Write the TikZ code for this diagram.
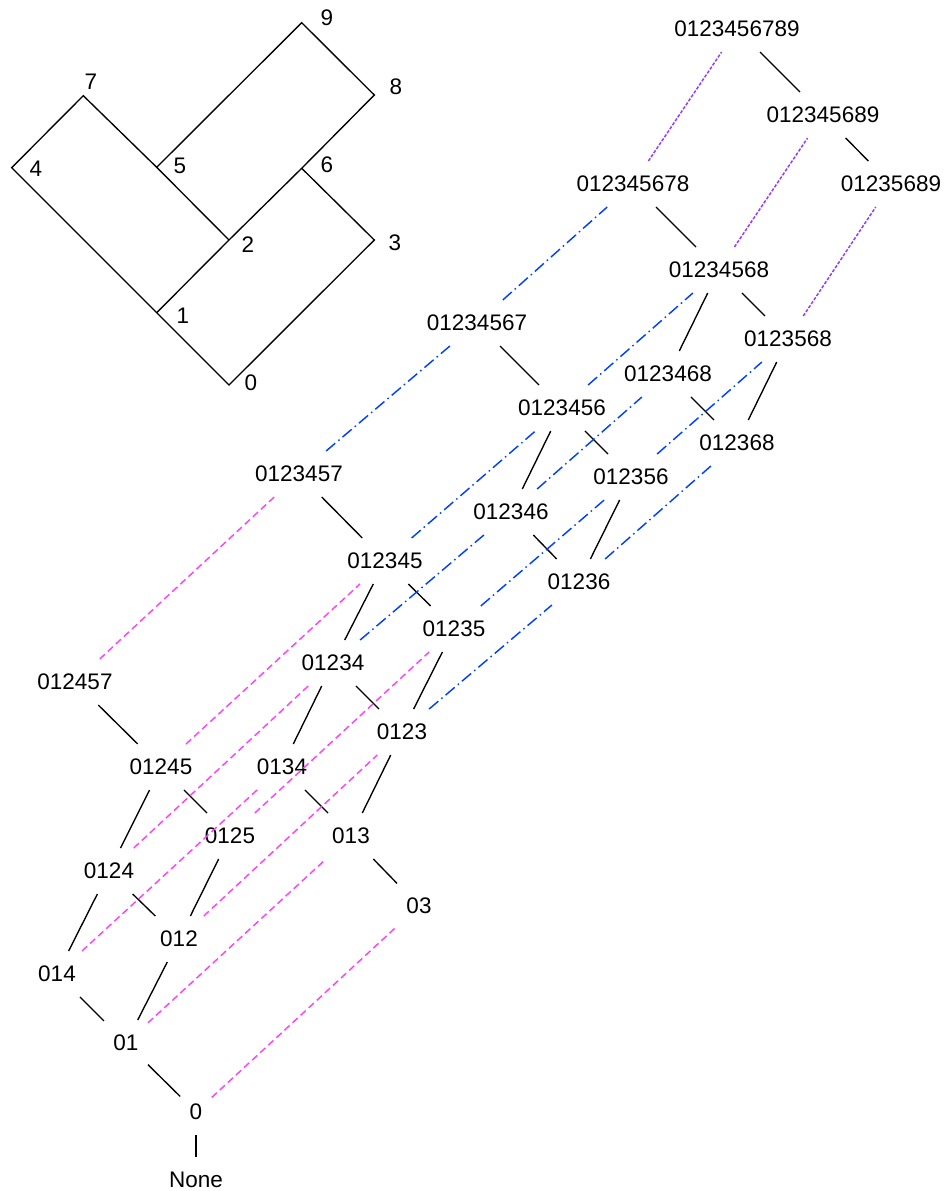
\documentclass[tikz,border=0pt]{standalone}
\usepackage{fontspec}
\setmainfont{Liberation Sans}
\definecolor{latmag}{RGB}{255,64,255}
\definecolor{latblue}{RGB}{0,64,255}
\definecolor{latviolet}{RGB}{150,60,255}
\begin{document}
\begin{tikzpicture}[x=1pt,y=-1pt,
  font=\fontsize{22.5}{27}\selectfont,
  el/.style={inner xsep=9.5pt, inner ysep=0pt, minimum height=46pt, outer sep=0pt},
  cover/.style={line width=1.35pt, black},
  addthree/.style={line width=1.45pt, latmag, dash pattern=on 7pt off 4pt},
  addsix/.style={line width=1.45pt, latblue, dash pattern=on 12pt off 4pt on 1.5pt off 4pt},
  addnine/.style={line width=1.5pt, latviolet, dash pattern=on 3.2pt off 1.6pt},
  hasse/.style={line width=1.35pt, black, line join=miter},
  plab/.style={inner sep=0pt}]
\useasboundingbox (0,0) rectangle (945,1191);

% ---- the poset (Hasse diagram, rotated) ----
\coordinate (p0) at (229,385);
\coordinate (p1) at (156.7,312.7);
\coordinate (p2) at (229,240);
\coordinate (p3) at (374.3,240);
\coordinate (p4) at (11.7,167.7);
\coordinate (p5) at (156.7,167.3);
\coordinate (p6) at (301.7,168.3);
\coordinate (p7) at (83.3,95.7);
\coordinate (p8) at (374.3,95);
\coordinate (p9) at (301.7,22.7);
\draw[hasse] (p2) -- (p5) -- (p7) -- (p4) -- (p1) -- (p0) -- (p3) -- (p6) -- (p8) -- (p9) -- (p5);
\draw[hasse] (p1) -- (p2) -- (p6);
\node[plab] (l0) at (251,383) {0};
\node[plab] (l1) at (183,316) {1};
\node[plab] (l2) at (248,245) {2};
\node[plab] (l3) at (395,243) {3};
\node[plab] (l4) at (36,169) {4};
\node[plab] (l5) at (180,166) {5};
\node[plab] (l6) at (327,165) {6};
\node[plab] (l7) at (91,82) {7};
\node[plab] (l8) at (396,87) {8};
\node[plab] (l9) at (327,18) {9};

% ---- lattice of down-sets ----
\node[el] (i0123456789) at (737,29) {0123456789};
\node[el] (i012345689) at (823,115) {012345689};
\node[el] (i012345678) at (633,184) {012345678};
\node[el] (i01235689) at (891,184) {01235689};
\node[el] (i01234568) at (719,270) {01234568};
\node[el] (i01234567) at (477,323) {01234567};
\node[el] (i0123568) at (788,339) {0123568};
\node[el] (i0123468) at (668,374) {0123468};
\node[el] (i0123456) at (562,408) {0123456};
\node[el] (i012368) at (737,443) {012368};
\node[el] (i0123457) at (299,474) {0123457};
\node[el] (i012356) at (631,477) {012356};
\node[el] (i012346) at (511,512) {012346};
\node[el] (i012345) at (385,561) {012345};
\node[el] (i01236) at (579,582) {01236};
\node[el] (i01235) at (454,629) {01235};
\node[el] (i01234) at (333,663) {01234};
\node[el] (i012457) at (75,682) {012457};
\node[el] (i0123) at (402,732) {0123};
\node[el] (i01245) at (161,767) {01245};
\node[el] (i0134) at (282,767) {0134};
\node[el] (i0125) at (230,836) {0125};
\node[el] (i013) at (351,836) {013};
\node[el] (i0124) at (109,871) {0124};
\node[el] (i03) at (419,906) {03};
\node[el] (i012) at (179,939) {012};
\node[el] (i014) at (57,974) {014};
\node[el] (i01) at (126,1043) {01};
\node[el] (i0) at (196,1112) {0};
\node[el] (iNone) at (196,1180) {None};

% solid covers
\draw[cover] (iNone) -- (i0);
\draw[cover] (i0) -- (i01);
\draw[cover] (i01) -- (i014);
\draw[cover] (i01) -- (i012);
\draw[cover] (i03) -- (i013);
\draw[cover] (i014) -- (i0124);
\draw[cover] (i012) -- (i0124);
\draw[cover] (i012) -- (i0125);
\draw[cover] (i013) -- (i0134);
\draw[cover] (i013) -- (i0123);
\draw[cover] (i0124) -- (i01245);
\draw[cover] (i0125) -- (i01245);
\draw[cover] (i0123) -- (i01234);
\draw[cover] (i0123) -- (i01235);
\draw[cover] (i0134) -- (i01234);
\draw[cover] (i01245) -- (i012457);
\draw[cover] (i01234) -- (i012345);
\draw[cover] (i01235) -- (i012345);
\draw[cover] (i01236) -- (i012346);
\draw[cover] (i01236) -- (i012356);
\draw[cover] (i012345) -- (i0123457);
\draw[cover] (i012346) -- (i0123456);
\draw[cover] (i012356) -- (i0123456);
\draw[cover] (i012368) -- (i0123468);
\draw[cover] (i012368) -- (i0123568);
\draw[cover] (i0123456) -- (i01234567);
\draw[cover] (i0123468) -- (i01234568);
\draw[cover] (i0123568) -- (i01234568);
\draw[cover] (i01234568) -- (i012345678);
\draw[cover] (i01235689) -- (i012345689);
\draw[cover] (i012345689) -- (i0123456789);

% covers adding 3
\draw[addthree] (i0) -- (i03);
\draw[addthree] (i01) -- (i013);
\draw[addthree] (i014) -- (i0134);
\draw[addthree] (i012) -- (i0123);
\draw[addthree] (i0124) -- (i01234);
\draw[addthree] (i0125) -- (i01235);
\draw[addthree] (i01245) -- (i012345);
\draw[addthree] (i012457) -- (i0123457);

% covers adding 6 or 8
\draw[addsix] (i0123) -- (i01236);
\draw[addsix] (i01234) -- (i012346);
\draw[addsix] (i01235) -- (i012356);
\draw[addsix] (i01236) -- (i012368);
\draw[addsix] (i012345) -- (i0123456);
\draw[addsix] (i012346) -- (i0123468);
\draw[addsix] (i012356) -- (i0123568);
\draw[addsix] (i0123457) -- (i01234567);
\draw[addsix] (i0123456) -- (i01234568);
\draw[addsix] (i01234567) -- (i012345678);

% covers adding 9
\draw[addnine] (i0123568) -- (i01235689);
\draw[addnine] (i01234568) -- (i012345689);
\draw[addnine] (i012345678) -- (i0123456789);
\end{tikzpicture}
\end{document}
